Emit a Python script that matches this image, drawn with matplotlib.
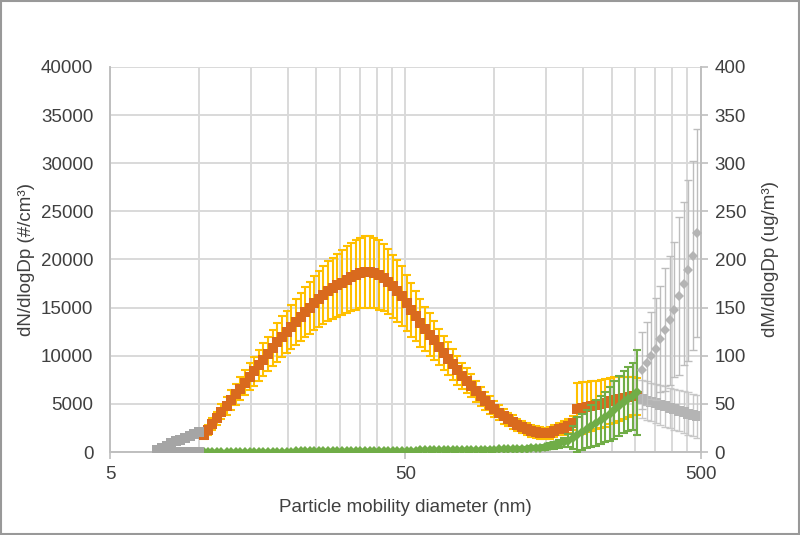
import matplotlib
matplotlib.use('Agg')
from matplotlib import pyplot as plt
from matplotlib.ticker import FixedLocator, NullFormatter
from matplotlib.patches import Rectangle

plt.rcParams['font.family'] = ['Liberation Sans', 'DejaVu Sans']

# particle diameters (nm), 64 channels / decade
diam_low = [7.23, 7.50, 7.77, 8.06, 8.35, 8.66, 8.98, 9.31, 9.65, 10.0]
diam_mid = [10.4, 10.7, 11.1, 11.5, 11.9, 12.4, 12.8, 13.3, 13.8, 14.3,
            14.9, 15.4, 16.0, 16.5, 17.2, 17.8, 18.4, 19.1, 19.8, 20.5,
            21.3, 22.1, 22.9, 23.7, 24.6, 25.5, 26.4, 27.4, 28.4, 29.4,
            30.5, 31.6, 32.8, 34.0, 35.2, 36.5, 37.9, 39.2, 40.7, 42.2,
            43.7, 45.3, 47.0, 48.7, 50.5, 52.3, 54.2, 56.2, 58.3, 60.4,
            62.6, 64.9, 67.3, 69.8, 72.3, 75.0, 77.7, 80.6, 83.5, 86.6,
            89.8, 93.1, 96.5, 100.0, 103.7, 107.5, 111.4, 115.5, 119.7, 124.1,
            128.6, 133.3, 138.2, 143.3, 148.6, 154.0, 159.6, 165.5, 171.5, 177.8,
            184.3, 191.1, 198.1, 205.4, 212.9, 220.7, 228.8, 237.1, 245.8, 254.8,
            264.2, 273.8, 283.9, 294.3, 305.1]
diam_high = [316.2, 327.8, 339.8, 352.3, 365.2, 378.6, 392.4, 406.8, 421.7,
             437.1, 453.2, 469.8, 487.0]

# number distribution dN/dlogDp (#/cm3)
num_mid = [1800, 2300, 2900, 3500, 4200, 4800, 5400, 6000, 6600, 7200,
           7800, 8400, 9000, 9600, 10200, 10800, 11400, 12000, 12500, 13000,
           13500, 14000, 14500, 15000, 15500, 15900, 16300, 16700, 17000, 17300,
           17600, 17900, 18200, 18400, 18600, 18700, 18700, 18600, 18400, 18100,
           17700, 17200, 16700, 16200, 15500, 14800, 14100, 13400, 12800, 12200,
           11600, 10900, 10300, 9700, 9100, 8500, 7900, 7400, 6900, 6300,
           5800, 5300, 4900, 4500, 4100, 3700, 3400, 3100, 2800, 2600,
           2400, 2200, 2100, 2000, 1950, 2000, 2200, 2400, 2500, 2700,
           3000, 4500, 4600, 4700, 4800, 4900, 5000, 5100, 5300, 5400,
           5500, 5600, 5700, 5800, 5800]
num_mid_err = [400, 500, 600, 700, 800, 900, 1000, 1100, 1200, 1300,
               1400, 1500, 1600, 1700, 1800, 1900, 2000, 2100, 2200, 2300,
               2400, 2500, 2600, 2700, 2800, 2900, 3000, 3100, 3200, 3300,
               3400, 3500, 3500, 3600, 3600, 3700, 3700, 3600, 3600, 3500,
               3400, 3300, 3200, 3100, 2900, 2800, 2600, 2500, 2300, 2200,
               2000, 1900, 1800, 1700, 1600, 1500, 1400, 1300, 1200, 1100,
               1000, 950, 900, 850, 800, 750, 700, 700, 650, 650,
               600, 600, 600, 600, 600, 600, 650, 650, 700, 700,
               750, 2700, 2700, 2600, 2600, 2500, 2500, 2500, 2400, 2400,
               2300, 2200, 2100, 2000, 1900]
num_low = [200, 450, 650, 900, 1100, 1300, 1500, 1700, 1900, 2100]
num_low_err = [50, 80, 100, 120, 150, 170, 190, 210, 230, 250]
num_high = [5500, 5350, 5200, 5050, 4900, 4750, 4600, 4450, 4300, 4150,
            4000, 3850, 3700]
num_high_err = [2000, 2000, 2000, 2050, 2050, 2100, 2100, 2150, 2150, 2200,
                2200, 2200, 2200]

# mass distribution dM/dlogDp (ug/m3)
mass_mid = [0.1, 0.1, 0.1, 0.1, 0.2, 0.2, 0.2, 0.2, 0.2, 0.3,
            0.3, 0.3, 0.3, 0.4, 0.4, 0.4, 0.4, 0.5, 0.5, 0.5,
            0.6, 0.6, 0.6, 0.7, 0.7, 0.7, 0.8, 0.8, 0.8, 0.9,
            0.9, 1.0, 1.0, 1.0, 1.1, 1.1, 1.2, 1.2, 1.2, 1.3,
            1.3, 1.4, 1.4, 1.5, 1.5, 1.6, 1.6, 1.7, 1.7, 1.8,
            1.8, 1.9, 1.9, 2.0, 2.0, 2.1, 2.1, 2.2, 2.2, 2.3,
            2.3, 2.4, 2.5, 2.6, 2.7, 2.8, 2.9, 3.0, 3.2, 3.4,
            3.6, 3.9, 4.2, 4.5, 5.0, 6.0, 7.0, 8.5, 10.0, 12.0,
            15, 18, 21, 24, 27, 30, 33, 36, 40, 44,
            48, 52, 55, 58, 62]
mass_mid_err = [0.1, 0.1, 0.1, 0.1, 0.1, 0.1, 0.1, 0.1, 0.1, 0.2,
                0.2, 0.2, 0.2, 0.2, 0.2, 0.2, 0.2, 0.3, 0.3, 0.3,
                0.3, 0.3, 0.3, 0.4, 0.4, 0.4, 0.4, 0.4, 0.4, 0.5,
                0.5, 0.5, 0.5, 0.5, 0.6, 0.6, 0.6, 0.6, 0.6, 0.7,
                0.7, 0.7, 0.7, 0.8, 0.8, 0.8, 0.8, 0.9, 0.9, 0.9,
                0.9, 1.0, 1.0, 1.0, 1.0, 1.1, 1.1, 1.1, 1.1, 1.2,
                1.2, 1.2, 1.3, 1.3, 1.4, 1.4, 1.5, 1.5, 1.6, 1.7,
                1.8, 2.0, 2.1, 2.3, 2.6, 3.0, 3.5, 4.2, 5.0, 6.5,
                12, 18, 19, 20, 22, 24, 25, 26, 28, 30,
                31, 32, 33, 35, 44]
mass_low = [0.0, 0.0, 0.0, 0.0, 0.0, 0.0, 0.1, 0.1, 0.1, 0.1]
mass_high = [85, 92, 100, 107, 117, 127, 137, 148, 162, 175, 189, 204, 228]
mass_high_err = [40, 43, 45, 53, 55, 64, 67, 70, 82, 85, 94, 98, 108]

orange = '#D96A1E'
yellow = '#FFC000'
green = '#70AD47'
gray = '#A5A5A5'
axis_gray = '#BFBFBF'
text_col = '#404040'
fs = 13.5

fig = plt.figure(figsize=(8, 5.35), dpi=100)
ax = fig.add_axes([0.1375, 0.155, 0.7385, 0.72])
ax2 = ax.twinx()

# number distribution (left axis)
ax.errorbar(diam_mid, num_mid, yerr=num_mid_err, fmt='none', ecolor=yellow,
            elinewidth=1.5, capsize=3, capthick=1.5, zorder=3)
ax.plot(diam_mid, num_mid, 's', color=orange, ms=7.5, mew=0, zorder=4)
ax.errorbar(diam_low, num_low, yerr=num_low_err, fmt='none', ecolor=gray,
            elinewidth=1, capsize=2, capthick=1, zorder=3)
ax.plot(diam_low, num_low, 's', color=gray, ms=7, mew=0, zorder=4)
ax.errorbar(diam_high, num_high, yerr=num_high_err, fmt='none', ecolor='#C8C8C8',
            elinewidth=1, capsize=2.6, capthick=1, zorder=3)
ax.plot(diam_high, num_high, 's', color='#B4B4B4', ms=7, mew=0, zorder=4)

# mass distribution (right axis)
ax2.errorbar(diam_mid, mass_mid, yerr=mass_mid_err, fmt='none', ecolor=green,
             elinewidth=1.5, capsize=3, capthick=1.5, zorder=3)
ax2.plot(diam_mid, mass_mid, 'D', color=green, ms=5, mew=0, zorder=4)
ax2.plot(diam_low, mass_low, 's', color=gray, ms=7, mew=0, zorder=4)
ax2.errorbar(diam_high, mass_high, yerr=mass_high_err, fmt='none', ecolor='#BDBDBD',
             elinewidth=1, capsize=2.6, capthick=1, zorder=3)
ax2.plot(diam_high, mass_high, 'D', color='#B4B4B4', ms=5.5, mew=0, zorder=4)

ax.set_xscale('log')
ax.set_xlim(5, 500)
ax.set_ylim(0, 40000)
ax2.set_ylim(0, 400)
ax.set_yticks(range(0, 40001, 5000))
ax2.set_yticks(range(0, 401, 50))
ax.xaxis.set_major_locator(FixedLocator([5, 50, 500]))
ax.xaxis.set_minor_locator(FixedLocator([10, 15, 20, 25, 30, 35, 40, 45,
                                         100, 150, 200, 250, 300, 350, 400, 450]))
ax.xaxis.set_minor_formatter(NullFormatter())
ax.set_xticklabels(['5', '50', '500'])

ax.grid(True, which='both', axis='x', color='#D9D9D9', lw=1.4)
ax.grid(True, which='major', axis='y', color='#D9D9D9', lw=1.4)
ax.set_axisbelow(True)

for a in (ax, ax2):
    a.spines['top'].set_visible(False)
    for s in ('left', 'right', 'bottom'):
        a.spines[s].set_color(axis_gray)
        a.spines[s].set_linewidth(1.2)

ax.tick_params(axis='y', length=0, pad=12, labelsize=fs, labelcolor=text_col)
ax.tick_params(axis='x', which='major', length=5, color=axis_gray, width=1.2,
               pad=5, labelsize=fs, labelcolor=text_col)
ax.tick_params(axis='x', which='minor', length=0)
ax2.tick_params(axis='y', length=5, color=axis_gray, width=1.2, pad=5,
                labelsize=fs, labelcolor=text_col)

ax.set_xlabel('Particle mobility diameter (nm)', fontsize=fs, color=text_col)
ax.set_ylabel('dN/dlogDp (#/cm³)', fontsize=fs, color=text_col)
ax2.set_ylabel('dM/dlogDp (ug/m³)', fontsize=fs, color=text_col, rotation=90)
ax.xaxis.set_label_coords(0.5, -0.143)
ax.yaxis.set_label_coords(-0.142, 0.5)
ax2.yaxis.set_label_coords(1.118, 0.5)
ax.yaxis.label.set_va('center')
ax2.yaxis.label.set_va('center')
ax.xaxis.label.set_va('center')

fig.patches.append(Rectangle((0.001, 0.001), 0.998, 0.998, transform=fig.transFigure,
                             fill=False, edgecolor='#999999', lw=1.5))

fig.savefig('out.png', dpi=100)
